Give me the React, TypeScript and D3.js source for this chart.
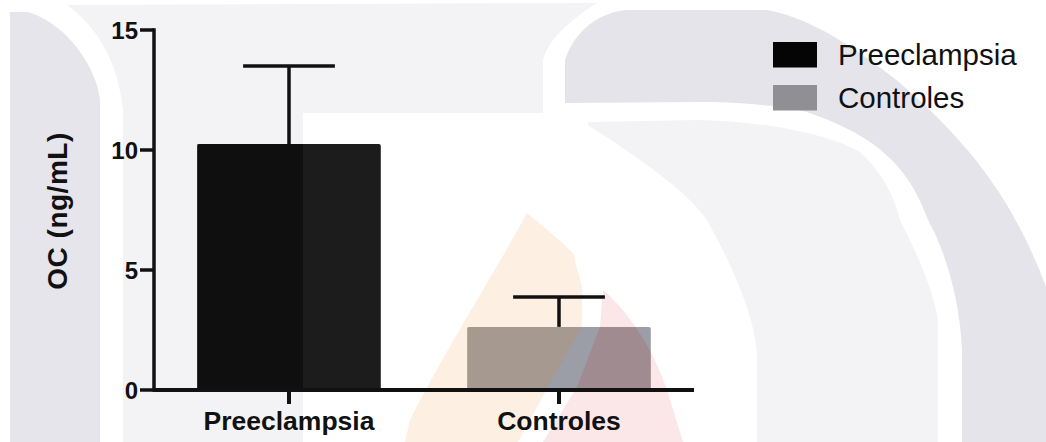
import React from "react";
import * as d3 from "d3";

// Group labels, mean values and upper error (SD) for each group
const CATEGORIES = ["Preeclampsia", "Controles"];
const MEANS = [10.25, 2.63];
const ERRORS = [3.25, 1.25];
const Y_TICKS = [0, 5, 10, 15];
const LEGEND_LABELS = ["Preeclampsia", "Controles"];
const Y_LABEL = "OC (ng/mL)";

const W = 1046;
const H = 442;
const FONT = "'Liberation Sans', Arial, Helvetica, sans-serif";
const BAR_COLORS = ["#1c1c1c", "#9b9ea6"];
const LEGEND_COLORS = ["#050505", "#8f8f94"];

// Faint background watermark shapes
const WM_LEFT_STRIP = "M10,442 L10,12 L27,12 C60,20 95,60 100,100 L100,442 Z";
const WM_T_SHAPE =
  "M123,442 L123,110 C118,60 95,25 67,5 L597,3 C570,20 548,40 543,60 L543,113 L303,113 L303,442 Z";
const WM_BAND =
  "M565,103 L565,60 C575,30 600,12 627,10 L767,10 C800,16 840,35 900,83 C960,135 1010,190 1046,287 L1046,442 L962,442 L962,350 C960,300 945,250 928,220 C910,170 880,135 800,110 C760,103 720,102 700,102 Z";
const WM_CRESCENT =
  "M588,122 L700,120 C770,122 830,135 860,152 C885,175 895,200 900,220 C915,250 932,285 938,320 L938,442 L757,442 L757,353 C754,320 740,280 707,220 C690,195 650,165 588,125 Z";
const WM_FLAME_A =
  "M527,213 C545,228 562,242 573,253 L582,287 L582,327 L548,387 L518,442 L405,442 L410,420 C440,360 490,280 527,213 Z";
const WM_FLAME_B =
  "M603,290 C622,306 650,340 667,390 L683,442 L543,442 L577,387 L600,327 Z";

export default function App() {
  const margin = { left: 154, right: W - 694, top: 30, bottom: H - 390 };

  const x = d3
    .scaleBand<string>()
    .domain(CATEGORIES)
    .range([margin.left, W - margin.right])
    .paddingInner(0.32)
    .paddingOuter(0.16);

  const y = d3.scaleLinear().domain([0, 15]).range([H - margin.bottom, margin.top]);

  const bw = x.bandwidth();
  const capW = bw / 2;
  const axisX = margin.left;
  const axisY = y(0);
  const lw = 3.5;

  const bar = (i: number) => {
    const cx = (x(CATEGORIES[i]) as number) + bw / 2;
    return { x0: x(CATEGORIES[i]) as number, cx, top: y(MEANS[i]), err: y(MEANS[i] + ERRORS[i]) };
  };

  const b0 = bar(0);
  const b1 = bar(1);

  return (
    <svg
      width={W}
      height={H}
      viewBox={`0 0 ${W} ${H}`}
      style={{ position: "absolute", left: 0, top: 0, background: "#ffffff" }}
      fontFamily={FONT}
    >
      <defs>
        <clipPath id="bar0clip">
          <rect x={b0.x0} y={b0.top} width={bw} height={axisY - b0.top} />
        </clipPath>
        <clipPath id="bar1clip">
          <rect x={b1.x0} y={b1.top} width={bw} height={axisY - b1.top} />
        </clipPath>
      </defs>

      {/* watermark */}
      <g>
        <path d={WM_LEFT_STRIP} fill="#e6e5eb" />
        <path d={WM_T_SHAPE} fill="#f3f3f6" />
        <path d={WM_BAND} fill="#e5e4ea" />
        <path d={WM_CRESCENT} fill="#f3f3f6" />
        <path d={WM_FLAME_A} fill="#fdf0e2" />
        <path d={WM_FLAME_B} fill="#fbe6e8" />
      </g>

      {/* bars */}
      {CATEGORIES.map((c, i) => {
        const b = bar(i);
        return (
          <rect
            key={c}
            x={b.x0}
            y={b.top}
            width={bw}
            height={axisY - b.top}
            rx={2}
            fill={BAR_COLORS[i]}
          />
        );
      })}

      {/* watermark tint showing through the bars */}
      <g clipPath="url(#bar0clip)">
        <path d={WM_T_SHAPE} fill="rgba(0,0,0,0.45)" />
      </g>
      <g clipPath="url(#bar1clip)">
        <path d={WM_FLAME_A} fill="rgba(200,140,80,0.25)" />
        <path d={WM_FLAME_B} fill="rgba(175,82,82,0.25)" />
      </g>

      {/* error bars (upper only) */}
      {CATEGORIES.map((c, i) => {
        const b = bar(i);
        return (
          <g key={c} stroke="#111111" strokeWidth={lw} fill="none">
            <line x1={b.cx} x2={b.cx} y1={b.top} y2={b.err} />
            <line x1={b.cx - capW / 2} x2={b.cx + capW / 2} y1={b.err} y2={b.err} />
          </g>
        );
      })}

      {/* y axis */}
      <g stroke="#111111" strokeWidth={lw}>
        <line x1={axisX} x2={axisX} y1={y(15) - lw / 2} y2={axisY + lw / 2} />
        {Y_TICKS.map((t) => (
          <line key={t} x1={axisX - 14} x2={axisX} y1={y(t)} y2={y(t)} />
        ))}
      </g>
      {Y_TICKS.map((t) => (
        <text
          key={t}
          x={138}
          y={y(t) + 8.6}
          textAnchor="end"
          fontSize={24}
          fontWeight="bold"
          fill="#111111"
        >
          {t}
        </text>
      ))}

      {/* x axis */}
      <g stroke="#111111" strokeWidth={lw + 0.5}>
        <line x1={axisX} x2={W - margin.right} y1={axisY} y2={axisY} />
        {CATEGORIES.map((c) => {
          const cx = (x(c) as number) + bw / 2;
          return <line key={c} x1={cx} x2={cx} y1={axisY} y2={axisY + 14} />;
        })}
      </g>
      {CATEGORIES.map((c) => (
        <text
          key={c}
          x={(x(c) as number) + bw / 2}
          y={430}
          textAnchor="middle"
          fontSize={26.5}
          fontWeight="bold"
          fill="#111111"
        >
          {c}
        </text>
      ))}

      {/* y axis title */}
      <text
        transform={`translate(67, ${(y(0) + y(15)) / 2 + 1}) rotate(-90)`}
        textAnchor="middle"
        fontSize={28}
        fontWeight="bold"
        letterSpacing={0.5}
        fill="#111111"
      >
        {Y_LABEL}
      </text>

      {/* legend */}
      {LEGEND_LABELS.map((l, i) => (
        <g key={l} transform={`translate(773, ${42 + i * 43})`}>
          <rect x={0} y={0} width={44} height={25.5} fill={LEGEND_COLORS[i]} />
          <text x={65} y={22.5} fontSize={29.5} fill="#111111">
            {l}
          </text>
        </g>
      ))}
    </svg>
  );
}
